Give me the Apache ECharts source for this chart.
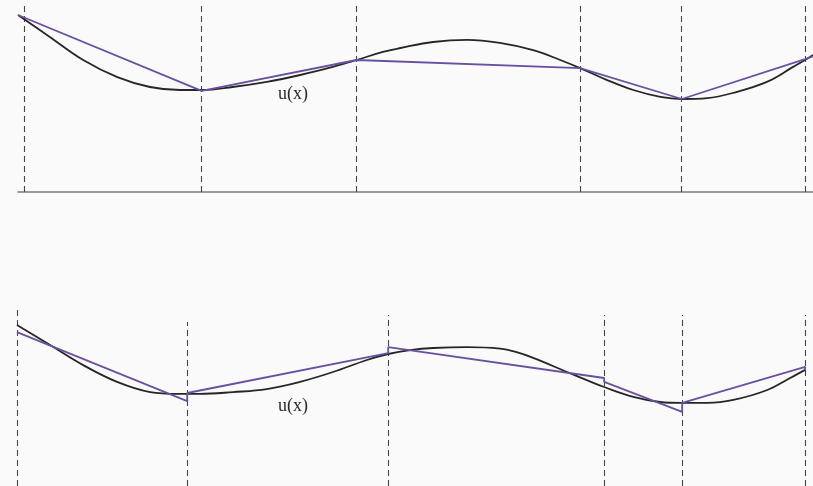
<!DOCTYPE html>
<html>
<head>
<meta charset="utf-8">
<script src="https://cdn.jsdelivr.net/npm/echarts@6/dist/echarts.min.js"></script>
<style>html,body{margin:0;padding:0;background:#fafafa;}#c{width:813px;height:486px;}</style>
</head>
<body>
<div id="c"></div>
<script>
// ---- Top panel: u(x) and its piecewise linear interpolant ----
const topCurveX = [0, 0.40, 0.82, 1.25, 1.66, 2.04, 2.31, 2.70, 3.13, 3.55, 3.96, 4.26, 4.59, 4.81, 5.22, 5.65, 6.06, 6.48, 6.82, 7.07, 7.41, 7.74, 8.08, 8.35, 8.67, 8.99, 9.42, 9.75, 9.90, 10.0];
const topCurveU = [5.90, 5.17, 4.40, 3.83, 3.50, 3.40, 3.40, 3.50, 3.67, 3.90, 4.17, 4.40, 4.67, 4.80, 5.00, 5.07, 4.97, 4.73, 4.40, 4.13, 3.73, 3.40, 3.17, 3.10, 3.13, 3.30, 3.67, 4.17, 4.40, 4.57];
const topInterpX = [0, 2.31, 4.26, 7.07, 8.35, 9.90, 10.0];
const topInterpU = [5.90, 3.37, 4.40, 4.13, 3.10, 4.43, 4.52];
const topNodes = [0.075, 2.31, 4.26, 7.07, 8.34, 9.90];
const topNodeHeight = [6.2, 6.2, 6.2, 6.2, 6.2, 6.2];

// ---- Bottom panel: u(x) and a discontinuous piecewise linear approximation ----
const botCurveX = [0, 0.42, 0.84, 1.27, 1.69, 2.03, 2.32, 2.74, 3.17, 3.59, 4.01, 4.44, 4.71, 4.99, 5.28, 5.71, 6.13, 6.34, 6.55, 6.98, 7.23, 7.45, 7.82, 8.16, 8.44, 8.76, 9.09, 9.52, 9.81, 10.0];
const botCurveU = [5.37, 4.70, 4.03, 3.47, 3.13, 3.07, 3.07, 3.13, 3.23, 3.47, 3.80, 4.20, 4.40, 4.53, 4.60, 4.63, 4.58, 4.46, 4.27, 3.80, 3.53, 3.30, 2.97, 2.80, 2.77, 2.77, 2.87, 3.20, 3.60, 3.87];
const botApproxX = [0, 2.16, 2.16, 4.71, 4.71, 7.45, 7.45, 8.44, 8.44, 10.0, 10.0];
const botApproxU = [5.13, 2.83, 3.10, 4.43, 4.63, 3.60, 3.47, 2.47, 2.77, 3.97, 3.87];
const botNodes = [0, 2.16, 4.71, 7.45, 8.44, 10.0];
const botNodeHeight = [5.93, 5.47, 5.7, 5.7, 5.7, 5.7];

const labelText = 'u(x)';

const zip = (xs, ys) => xs.map((x, i) => [x, ys[i]]);
const nodeLines = (xs, hs) => xs.map((x, i) => ({ coords: [[x, 0], [x, hs[i]]] }));

const black = '#262626';
const purple = '#6850a3';
const dash = { color: '#444', width: 1.1, type: [6, 4], opacity: 1 };

const chart = echarts.init(document.getElementById('c'));
chart.setOption({
  backgroundColor: '#fafafa',
  animation: false,
  grid: [
    { left: 18, right: 0, top: 0, height: 192 },
    { left: 17, right: 0, top: 294, height: 192 }
  ],
  xAxis: [
    { gridIndex: 0, type: 'value', min: 0, max: 10, axisLine: { show: true, onZero: false, lineStyle: { color: '#7a7a7a', width: 1.5 } }, axisTick: { show: false }, axisLabel: { show: false }, splitLine: { show: false } },
    { gridIndex: 1, type: 'value', min: 0, max: 10.1, show: false, splitLine: { show: false } }
  ],
  yAxis: [
    { gridIndex: 0, type: 'value', min: 0, max: 6.4, show: false, splitLine: { show: false } },
    { gridIndex: 1, type: 'value', min: 0, max: 6.4, show: false, splitLine: { show: false } }
  ],
  series: [
    { type: 'lines', coordinateSystem: 'cartesian2d', xAxisIndex: 0, yAxisIndex: 0, data: nodeLines(topNodes, topNodeHeight), lineStyle: dash, silent: true },
    { type: 'lines', coordinateSystem: 'cartesian2d', xAxisIndex: 1, yAxisIndex: 1, data: nodeLines(botNodes, botNodeHeight), lineStyle: dash, silent: true },
    { type: 'line', xAxisIndex: 0, yAxisIndex: 0, data: zip(topCurveX, topCurveU), smooth: 0.4, showSymbol: false, lineStyle: { color: black, width: 1.8 } },
    { type: 'line', xAxisIndex: 0, yAxisIndex: 0, data: zip(topInterpX, topInterpU), showSymbol: false, lineStyle: { color: purple, width: 1.8 } },
    { type: 'line', xAxisIndex: 1, yAxisIndex: 1, data: zip(botCurveX, botCurveU), smooth: 0.4, showSymbol: false, lineStyle: { color: black, width: 1.8 } },
    { type: 'line', xAxisIndex: 1, yAxisIndex: 1, data: zip(botApproxX, botApproxU), showSymbol: false, lineStyle: { color: purple, width: 1.8 } }
  ],
  graphic: [
    { type: 'text', left: 278, top: 85, style: { text: labelText, font: '18px "Liberation Serif", "DejaVu Serif", serif', fill: '#2a2a2a' } },
    { type: 'text', left: 278, top: 397, style: { text: labelText, font: '18px "Liberation Serif", "DejaVu Serif", serif', fill: '#2a2a2a' } }
  ]
});
</script>
</body>
</html>
